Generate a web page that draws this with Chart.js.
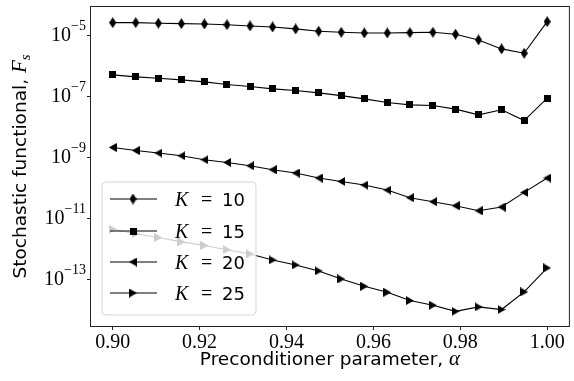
<!DOCTYPE html>
<html>
<head>
<meta charset="utf-8">
<script src="https://cdn.jsdelivr.net/npm/chart.js@4/dist/chart.umd.min.js"></script>
<style>
html, body { margin: 0; padding: 0; background: #fff; }
</style>
</head>
<body>
<canvas id="chart" width="574" height="381"></canvas>
<script>
// preconditioner parameter alpha (20 points between 0.90 and 1.00)
var alphas = [0.9, 0.9053, 0.9105, 0.9158, 0.9211, 0.9263, 0.9316, 0.9368, 0.9421, 0.9474,
              0.9526, 0.9579, 0.9632, 0.9684, 0.9737, 0.9789, 0.9842, 0.9895, 0.9947, 1.0];

var k10 = [2.73e-5, 2.73e-5, 2.61e-5, 2.53e-5, 2.47e-5, 2.34e-5, 2.13e-5, 1.97e-5, 1.70e-5, 1.43e-5,
           1.32e-5, 1.25e-5, 1.25e-5, 1.28e-5, 1.32e-5, 1.14e-5, 7.4e-6, 3.75e-6, 2.71e-6, 2.94e-5];
var k15 = [5.26e-7, 4.53e-7, 4.10e-7, 3.61e-7, 3.10e-7, 2.53e-7, 2.18e-7, 1.83e-7, 1.61e-7, 1.35e-7,
           1.10e-7, 8.6e-8, 6.5e-8, 5.47e-8, 5.19e-8, 3.95e-8, 2.57e-8, 3.75e-8, 1.67e-8, 9.06e-8];
var k20 = [2.18e-9, 1.73e-9, 1.43e-9, 1.16e-9, 8.6e-10, 7.0e-10, 5.47e-10, 4.05e-10, 3.15e-10, 2.16e-10,
           1.67e-10, 1.27e-10, 8.7e-11, 4.89e-11, 3.61e-11, 2.67e-11, 1.83e-11, 2.42e-11, 7.3e-11, 2.16e-10];
var k25 = [4.53e-12, 3.22e-12, 2.42e-12, 1.73e-12, 1.32e-12, 9.6e-13, 6.97e-13, 4.43e-13, 3.03e-13, 1.93e-13,
           1.05e-13, 6.03e-14, 3.84e-14, 2.05e-14, 1.44e-14, 9.1e-15, 1.27e-14, 1.04e-14, 3.95e-14, 2.42e-13];

var kLabels = ["10", "15", "20", "25"];
var xTicks = [0.90, 0.92, 0.94, 0.96, 0.98, 1.00];
var yTicks = [1e-5, 1e-7, 1e-9, 1e-11, 1e-13];
var yExp = ["\u22125", "\u22127", "\u22129", "\u221211", "\u221213"];

var SERIF = '"Liberation Serif", serif';
var SANS = '"DejaVu Sans", sans-serif';

// marker images
function marker(w, h, pts, square) {
    var c = document.createElement("canvas");
    c.width = w; c.height = h;
    var g = c.getContext("2d");
    g.fillStyle = "#000";
    if (square) { g.fillRect(0, 0, w, h); return c; }
    g.beginPath();
    g.moveTo(pts[0][0], pts[0][1]);
    for (var i = 1; i < pts.length; i++) g.lineTo(pts[i][0], pts[i][1]);
    g.closePath();
    g.fill();
    return c;
}
var mDiamond = marker(7, 11, [[3.5, 0], [7, 5.5], [3.5, 11], [0, 5.5]]);
var mSquare = marker(7, 7, null, true);
var mLeft = marker(8, 9, [[0, 4.5], [8, 0], [8, 9]]);
var mRight = marker(8, 9, [[8, 4.5], [0, 0], [0, 9]]);
var markers = [mDiamond, mSquare, mLeft, mRight];

function pts(arr) {
    return arr.map(function (v, i) { return { x: alphas[i], y: v }; });
}

function mkSet(arr, i) {
    return {
        label: "K = " + kLabels[i],
        data: pts(arr),
        borderColor: "#000",
        borderWidth: 1.1,
        pointStyle: markers[i],
        pointRadius: 4,
        pointBackgroundColor: "#000",
        tension: 0,
        fill: false
    };
}

function runsWidth(ctx, runs) {
    var w = 0;
    runs.forEach(function (r) { ctx.font = r.f; w += ctx.measureText(r.t).width; });
    return w;
}
function drawRuns(ctx, runs, x, y) {
    runs.forEach(function (r) {
        ctx.font = r.f;
        ctx.fillText(r.t, x, y + (r.dy || 0));
        x += ctx.measureText(r.t).width;
    });
}

var decor = {
    id: "decor",
    afterDatasetsDraw: function (chart) {
        var ctx = chart.ctx;
        // legend, lower left inside the axes
        ctx.save();
        var bx = 102, by = 182, bw = 154, bh = 133, r = 4;
        ctx.beginPath();
        ctx.moveTo(bx + r, by);
        ctx.arcTo(bx + bw, by, bx + bw, by + bh, r);
        ctx.arcTo(bx + bw, by + bh, bx, by + bh, r);
        ctx.arcTo(bx, by + bh, bx, by, r);
        ctx.arcTo(bx, by, bx + bw, by, r);
        ctx.closePath();
        ctx.fillStyle = "rgba(255,255,255,0.8)";
        ctx.fill();
        ctx.strokeStyle = "rgba(204,204,204,0.8)";
        ctx.lineWidth = 1;
        ctx.stroke();
        var rows = [199, 231, 262, 293];
        rows.forEach(function (ry, i) {
            ctx.strokeStyle = "#000";
            ctx.lineWidth = 1.1;
            ctx.beginPath();
            ctx.moveTo(110, ry);
            ctx.lineTo(157, ry);
            ctx.stroke();
            var m = markers[i];
            ctx.drawImage(m, 133 - m.width / 2, ry - m.height / 2);
            ctx.fillStyle = "#000";
            ctx.textBaseline = "alphabetic";
            ctx.font = "italic 20px " + SERIF;
            ctx.fillText("K", 175, ry + 7);
            ctx.font = "20px " + SERIF;
            ctx.fillText("=", 201, ry + 7);
            ctx.font = "18px " + SANS;
            ctx.fillText(kLabels[i], 222, ry + 7);
        });
        ctx.restore();
    },
    afterDraw: function (chart) {
        var ctx = chart.ctx, a = chart.chartArea;
        ctx.save();
        // frame
        ctx.strokeStyle = "#222";
        ctx.lineWidth = 1;
        ctx.strokeRect(a.left - 0.5, a.top - 0.5, a.right - a.left + 1, a.bottom - a.top + 1);

        // y tick labels 10^n
        var ys = chart.scales.y;
        ctx.fillStyle = "#000";
        ctx.textBaseline = "alphabetic";
        yTicks.forEach(function (v, i) {
            var py = ys.getPixelForValue(v);
            var runs = [{ t: "10", f: "20px " + SERIF }, { t: yExp[i], f: "14px " + SERIF, dy: -11 }];
            var w = runsWidth(ctx, runs);
            drawRuns(ctx, runs, 86 - w, py + 5);
        });

        // x title
        var xr = [{ t: "Preconditioner parameter, ", f: "18.5px " + SANS },
                  { t: "\u03b1", f: "italic 21px " + SERIF }];
        var xw = runsWidth(ctx, xr);
        drawRuns(ctx, xr, (a.left + a.right) / 2 - xw / 2, 365);

        // y title
        var yr = [{ t: "Stochastic functional, ", f: "18.5px " + SANS },
                  { t: "F", f: "italic 21px " + SERIF },
                  { t: "s", f: "italic 15px " + SERIF, dy: 4 }];
        var yw = runsWidth(ctx, yr);
        ctx.translate(26, (a.top + a.bottom) / 2);
        ctx.rotate(-Math.PI / 2);
        drawRuns(ctx, yr, -yw / 2, 0);
        ctx.restore();
    }
};

var ctx = document.getElementById("chart");
var chartGraph = new Chart(ctx, {
    type: "line",
    data: {
        datasets: [mkSet(k10, 0), mkSet(k15, 1), mkSet(k20, 2), mkSet(k25, 3)]
    },
    options: {
        responsive: false,
        animation: false,
        events: [],
        layout: { padding: { top: 7, right: 1, left: 0, bottom: 0 } },
        plugins: { legend: { display: false }, tooltip: { enabled: false } },
        scales: {
            x: {
                type: "linear",
                min: 0.895,
                max: 1.005,
                afterBuildTicks: function (s) { s.ticks = xTicks.map(function (v) { return { value: v }; }); },
                afterFit: function (s) { s.height = 55; },
                ticks: {
                    color: "#000",
                    font: { family: SERIF, size: 20 },
                    padding: 1,
                    maxRotation: 0,
                    callback: function (v) { return Number(v).toFixed(2); }
                },
                grid: { display: true, drawOnChartArea: false, drawTicks: true, tickLength: 4, color: "#222" },
                border: { display: false }
            },
            y: {
                type: "logarithmic",
                min: Math.pow(10, -14.51),
                max: Math.pow(10, -4.05),
                afterBuildTicks: function (s) { s.ticks = yTicks.map(function (v) { return { value: v }; }); },
                afterFit: function (s) { s.width = 91; },
                ticks: { display: false },
                grid: { display: true, drawOnChartArea: false, drawTicks: true, tickLength: 4, color: "#222" },
                border: { display: false }
            }
        }
    },
    plugins: [decor]
});
</script>
</body>
</html>
